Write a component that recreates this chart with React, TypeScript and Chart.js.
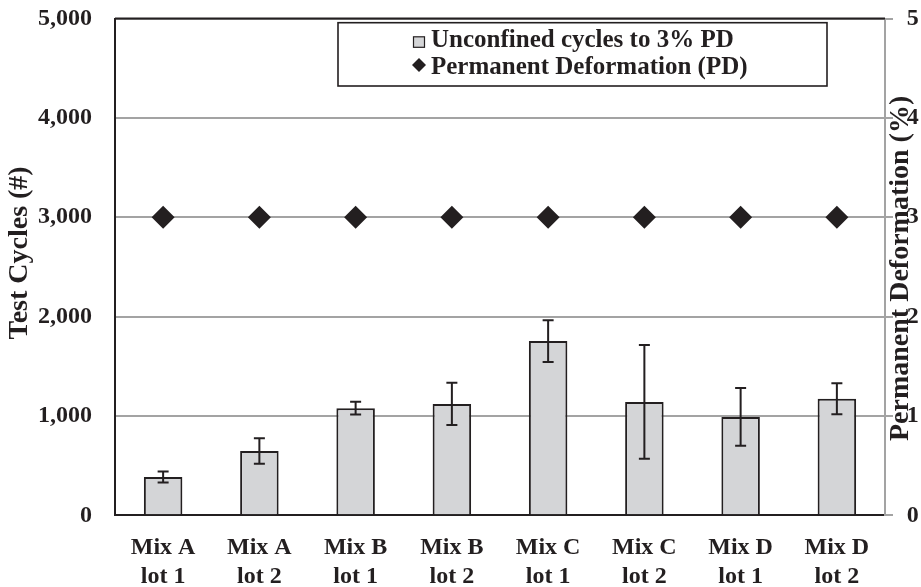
import React, { useEffect, useRef } from "react";
import { Chart, registerables } from "chart.js";

Chart.register(...registerables);

// ---- Data ----
const categories: string[][] = [
  ["Mix A", "lot 1"],
  ["Mix A", "lot 2"],
  ["Mix B", "lot 1"],
  ["Mix B", "lot 2"],
  ["Mix C", "lot 1"],
  ["Mix C", "lot 2"],
  ["Mix D", "lot 1"],
  ["Mix D", "lot 2"],
];
const cyclesTo3PD = [385, 648, 1078, 1121, 1753, 1141, 990, 1172];
const cyclesError = [55, 128, 64, 212, 210, 573, 291, 156];
const permanentDeformation = [3, 3, 3, 3, 3, 3, 3, 3];
const cycleTicks = [0, 1000, 2000, 3000, 4000, 5000];
const pdTicks = [0, 1, 2, 3, 4, 5];
const barLabel = "Unconfined cycles to 3% PD";
const pointLabel = "Permanent Deformation (PD)";
const leftTitle = "Test Cycles (#)";
const rightTitle = "Permanent Deformation (%)";

// ---- Style ----
const DARK = "#231f20";
const GRID = "#a3a3a3";
const BAR_FILL = "#d4d5d7";
const FAMILY = "'Liberation Serif', 'Times New Roman', serif";
const tickFont = { family: FAMILY, size: 24, weight: "bold" as const, lineHeight: 1.2 };
const yTickFont = { family: FAMILY, size: 24, weight: "bold" as const, lineHeight: 0.3 };

const errorBarPlugin = {
  id: "errorBars",
  afterDatasetsDraw(chart: any) {
    const meta = chart.getDatasetMeta(0);
    const y = chart.scales.y;
    const ctx = chart.ctx;
    ctx.save();
    ctx.strokeStyle = DARK;
    ctx.lineWidth = 2;
    meta.data.forEach((bar: any, i: number) => {
      const x = bar.x;
      const hi = y.getPixelForValue(cyclesTo3PD[i] + cyclesError[i]);
      const lo = y.getPixelForValue(cyclesTo3PD[i] - cyclesError[i]);
      const cap = 5.5;
      ctx.beginPath();
      ctx.moveTo(x, hi);
      ctx.lineTo(x, lo);
      ctx.moveTo(x - cap, hi);
      ctx.lineTo(x + cap, hi);
      ctx.moveTo(x - cap, lo);
      ctx.lineTo(x + cap, lo);
      ctx.stroke();
    });
    ctx.restore();
  },
};

const frameLegendTitlesPlugin = {
  id: "frameLegendTitles",
  afterDraw(chart: any) {
    const ctx = chart.ctx;
    const a = chart.chartArea;
    ctx.save();
    // top frame line
    ctx.strokeStyle = DARK;
    ctx.lineWidth = 2;
    ctx.beginPath();
    ctx.moveTo(a.left, a.top);
    ctx.lineTo(a.right, a.top);
    ctx.stroke();

    // legend box
    const bx = a.left + 223;
    const by = a.top + 4.2;
    const bw = 489;
    const bh = 63.3;
    ctx.fillStyle = "#ffffff";
    ctx.fillRect(bx, by, bw, bh);
    ctx.lineWidth = 1.6;
    ctx.strokeStyle = DARK;
    ctx.strokeRect(bx, by, bw, bh);

    const mx = bx + 81; // marker center x
    const tx = bx + 93; // text x
    const base1 = by + 24.6;
    const base2 = by + 51.6;

    // bar marker
    ctx.fillStyle = BAR_FILL;
    ctx.fillRect(mx - 5.5, base1 - 10.5, 11, 10.5);
    ctx.lineWidth = 1.2;
    ctx.strokeStyle = DARK;
    ctx.strokeRect(mx - 5.5, base1 - 10.5, 11, 10.5);

    // diamond marker
    ctx.fillStyle = DARK;
    const dy = base2 - 9.3;
    ctx.beginPath();
    ctx.moveTo(mx, dy - 7);
    ctx.lineTo(mx + 7, dy);
    ctx.lineTo(mx, dy + 7);
    ctx.lineTo(mx - 7, dy);
    ctx.closePath();
    ctx.fill();

    ctx.fillStyle = DARK;
    ctx.font = `bold 25px ${FAMILY}`;
    ctx.textAlign = "left";
    ctx.textBaseline = "alphabetic";
    ctx.fillText(chart.data.datasets[0].label, tx, base1);
    ctx.fillText(chart.data.datasets[1].label, tx, base2);

    // axis titles (both read bottom-to-top)
    ctx.font = `bold 28px ${FAMILY}`;
    ctx.textAlign = "center";
    ctx.textBaseline = "middle";
    const midY = (a.top + a.bottom) / 2;
    ctx.save();
    ctx.translate(20, midY - 14);
    ctx.rotate(-Math.PI / 2);
    ctx.fillText(leftTitle, 0, 0);
    ctx.restore();
    ctx.save();
    ctx.translate(a.right + 15.5, midY + 1.5);
    ctx.rotate(-Math.PI / 2);
    ctx.fillText(rightTitle, 0, 0);
    ctx.restore();

    ctx.restore();
  },
};

export default function App() {
  const canvasRef = useRef<HTMLCanvasElement | null>(null);

  useEffect(() => {
    document.body.style.margin = "0";
    const canvas = canvasRef.current;
    if (!canvas) return;
    const chart = new Chart(canvas, {
      type: "bar",
      data: {
        labels: categories,
        datasets: [
          {
            type: "bar",
            label: barLabel,
            data: cyclesTo3PD,
            backgroundColor: BAR_FILL,
            borderColor: DARK,
            borderWidth: 2,
            barPercentage: 0.4,
            categoryPercentage: 1,
            yAxisID: "y",
            order: 2,
          },
          {
            type: "line",
            label: pointLabel,
            data: permanentDeformation,
            yAxisID: "y2",
            showLine: false,
            pointStyle: "rectRot",
            pointRadius: 11.5,
            pointBackgroundColor: DARK,
            pointBorderColor: DARK,
            pointBorderWidth: 0,
            backgroundColor: DARK,
            borderColor: DARK,
            order: 1,
          },
        ],
      },
      options: {
        responsive: false,
        animation: false,
        devicePixelRatio: 1,
        layout: { padding: { top: 18.5, left: 0, right: 0, bottom: 0 } },
        plugins: {
          legend: { display: false },
          tooltip: { enabled: false },
        },
        scales: {
          x: {
            grid: { display: false },
            border: { color: DARK, width: 2 },
            ticks: {
              font: tickFont,
              color: DARK,
              padding: 10.3,
              maxRotation: 0,
              autoSkip: false,
            },
            afterFit: (s: any) => {
              s.height = 71.7;
            },
          },
          y: {
            position: "left",
            min: cycleTicks[0],
            max: cycleTicks[cycleTicks.length - 1],
            afterBuildTicks: (s: any) => {
              s.ticks = cycleTicks.map((v) => ({ value: v }));
            },
            grid: {
              color: GRID,
              lineWidth: 2,
              drawTicks: true,
              tickLength: 23,
              tickColor: "rgba(0,0,0,0)",
            },
            border: { color: DARK, width: 2 },
            ticks: {
              font: yTickFont,
              color: DARK,
              padding: 0,
              callback: (v: any) => Number(v).toLocaleString("en-US"),
            },
            afterFit: (s: any) => {
              s.width = 115;
            },
          },
          y2: {
            position: "right",
            min: pdTicks[0],
            max: pdTicks[pdTicks.length - 1],
            afterBuildTicks: (s: any) => {
              s.ticks = pdTicks.map((v) => ({ value: v }));
            },
            grid: {
              drawOnChartArea: false,
              color: GRID,
              lineWidth: 2,
              tickLength: 8,
            },
            border: { color: GRID, width: 2 },
            ticks: {
              font: yTickFont,
              color: DARK,
              padding: 13.7,
            },
            afterFit: (s: any) => {
              s.width = 36;
            },
          },
        },
      } as any,
      plugins: [errorBarPlugin, frameLegendTitlesPlugin],
    });
    return () => chart.destroy();
  }, []);

  return (
    <div style={{ position: "fixed", left: 0, top: 0, width: 921, height: 587, background: "#fff" }}>
      <canvas
        ref={canvasRef}
        width={921}
        height={587}
        style={{ width: "921px", height: "587px", display: "block" }}
      />
    </div>
  );
}
